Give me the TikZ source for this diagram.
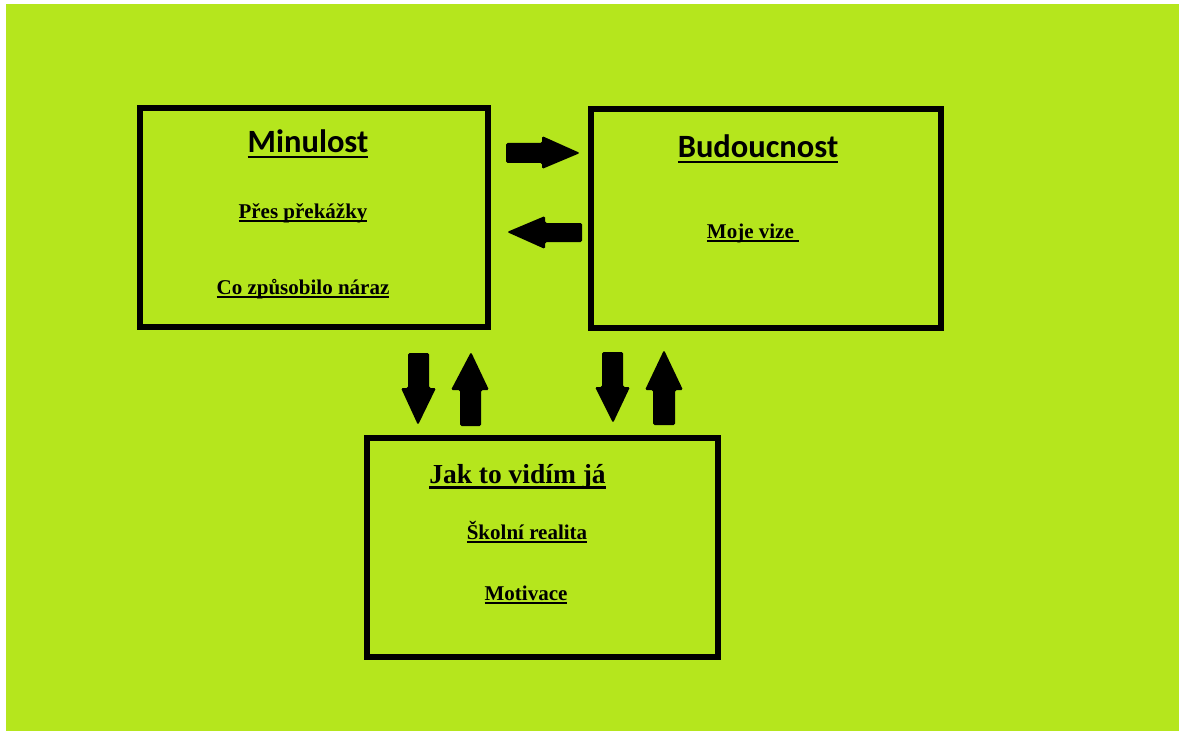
\documentclass[tikz,border=0pt]{standalone}
\usepackage{fontspec}
\setmainfont{Liberation Serif}
\newfontfamily\carlito{Carlito}
\definecolor{lime}{HTML}{B5E61D}
\newcommand\myul[3]{\setbox0\hbox{#3}\rlap{\rule[-#1pt]{\wd0}{#2pt}}\box0}
\tikzset{
  panel/.style={draw=black, line width=6pt, fill=none, inner sep=0pt},
  headsans/.style={anchor=base, inner sep=0pt, font=\carlito\bfseries\fontsize{32.5}{36}\selectfont},
  headserif/.style={anchor=base, inner sep=0pt, font=\bfseries\fontsize{27.5}{32}\selectfont},
  item/.style={anchor=base, inner sep=0pt, font=\bfseries\fontsize{21}{24}\selectfont},
  blockarrow/.style={fill=black, rounded corners=1.5pt},
}
\begin{document}
\begin{tikzpicture}[x=1pt, y=-1pt]
\useasboundingbox (0,0) rectangle (1181,733);
\fill[lime] (6,4) rectangle (1179,731);
% panels
\node[panel, minimum width=348pt, minimum height=219pt] (past) at (314,217.5) {};
\node[panel, minimum width=350pt, minimum height=219pt] (future) at (766,218.5) {};
\node[panel, minimum width=351pt, minimum height=219pt] (now) at (542.5,547.5) {};
% texts
\node[headsans] (t1) at (308,153) {\myul{5.5}{2.6}{Minulost}};
\node[item] (t2) at (303,218) {\myul{4.2}{2.2}{Přes překážky}};
\node[item] (t3) at (303,294) {\myul{4.2}{2.2}{Co způsobilo náraz}};
\node[headsans] (t4) at (758,158) {\myul{5.5}{2.6}{Budoucnost}};
\node[item] (t5) at (753,238) {\myul{4.2}{2.2}{Moje vize\ }};
\node[headserif] (t6) at (517.5,483) {\myul{5.5}{2.4}{Jak to vidím já}};
\node[item] (t7) at (527,539) {\myul{4.2}{2.2}{Školní realita}};
\node[item] (t8) at (526,600) {\myul{4.2}{2.2}{Motivace}};
% block arrows
\fill[blockarrow] (506,143) -- (542,143) -- (542,136) -- (580,153) -- (542,169) -- (542,163) -- (506,163) -- cycle;
\fill[blockarrow] (582,223) -- (545,223) -- (545,216) -- (507,232) -- (545,249) -- (545,242) -- (582,242) -- cycle;
\fill[blockarrow] (408,353) -- (429,353) -- (429,388) -- (436,388) -- (418,425) -- (401,388) -- (408,388) -- cycle;
\fill[blockarrow] (460,426) -- (481,426) -- (481,390) -- (489,390) -- (471,352) -- (451,390) -- (460,390) -- cycle;
\fill[blockarrow] (602,352) -- (623,352) -- (623,387) -- (630,387) -- (613,423) -- (595,387) -- (602,387) -- cycle;
\fill[blockarrow] (653,425) -- (675,425) -- (675,390) -- (683,390) -- (664,350) -- (645,390) -- (653,390) -- cycle;
\end{tikzpicture}
\end{document}
